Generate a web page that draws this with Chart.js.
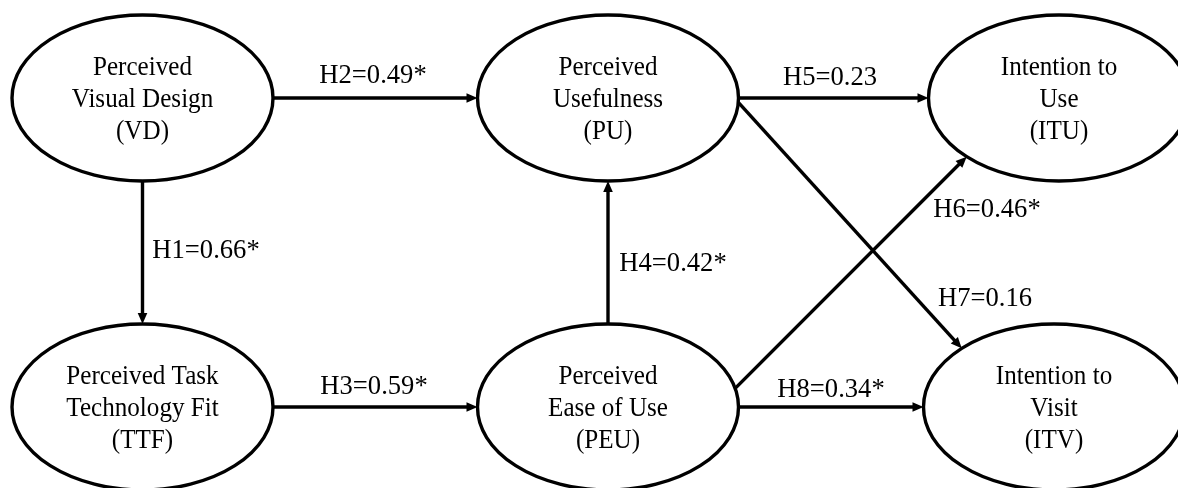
<!DOCTYPE html>
<html>
<head>
<meta charset="utf-8">
<script src="https://cdn.jsdelivr.net/npm/chart.js@4/dist/chart.umd.min.js"></script>
<style>
  html, body { margin: 0; padding: 0; background: #ffffff; }
  #wrap { width: 1178px; height: 488px; position: relative; }
</style>
</head>
<body>
<div id="wrap"><canvas id="c"></canvas></div>
<script>
// ---------- DATA ----------
const nodeIds = ['VD', 'PU', 'ITU', 'TTF', 'PEU', 'ITV'];
const nodeLabels = [
  ['Perceived', 'Visual Design', '(VD)'],
  ['Perceived', 'Usefulness', '(PU)'],
  ['Intention to', 'Use', '(ITU)'],
  ['Perceived Task', 'Technology Fit', '(TTF)'],
  ['Perceived', 'Ease of Use', '(PEU)'],
  ['Intention to', 'Visit', '(ITV)']
];
const pathIds   = ['H1', 'H2', 'H3', 'H4', 'H5', 'H6', 'H7', 'H8'];
const pathFrom  = ['VD', 'VD', 'TTF', 'PEU', 'PU', 'PEU', 'PU', 'PEU'];
const pathTo    = ['TTF', 'PU', 'PEU', 'PU', 'ITU', 'ITU', 'ITV', 'ITV'];
const pathCoef  = [0.66, 0.49, 0.59, 0.42, 0.23, 0.46, 0.16, 0.34];
const pathSig   = [true, true, true, true, false, true, false, true];

// ---------- LAYOUT (diagram geometry, in axis units) ----------
const layout = {
  centers: { VD: [142.5, 98], PU: [608, 98], ITU: [1059, 98],
             TTF: [142.5, 407], PEU: [608, 407], ITV: [1054, 407] },
  rx: 130.5, ry: 83,
  anchors: { H1: [90, 270], H2: [0, 180], H3: [0, 180], H4: [270, 90],
             H5: [0, 180], H6: [-13, 135], H7: [3, 225], H8: [0, 180] },
  labelPos: { H1: [206, 258], H2: [373, 83], H3: [374, 394], H4: [673, 271],
              H5: [830, 85], H6: [987, 217], H7: [985, 306], H8: [831, 397] }
};
const style = {
  font: '"Liberation Serif", "Times New Roman", serif',
  nodeSize: 27, nodeSqueeze: 0.93, nodeLineGap: 32,
  labelSize: 28, labelSqueeze: 0.95,
  lineWidth: 3.4, arrowLen: 11, arrowHalf: 4.8
};

function anchorPoint(node, deg) {
  const c = layout.centers[node];
  const a = deg * Math.PI / 180;
  return { x: c[0] + layout.rx * Math.cos(a), y: c[1] + layout.ry * Math.sin(a) };
}

// one line dataset per path, endpoints on the ellipses; line stops at arrow base
const edgeDatasets = pathIds.map((id, i) => {
  const an = layout.anchors[id];
  const p0 = anchorPoint(pathFrom[i], an[0]);
  const p1 = anchorPoint(pathTo[i], an[1]);
  const dx = p1.x - p0.x, dy = p1.y - p0.y, L = Math.hypot(dx, dy);
  const back = style.arrowLen - 2;
  return {
    label: id,
    data: [p0, { x: p1.x - dx / L * back, y: p1.y - dy / L * back }],
    tip: p1,
    showLine: true,
    borderColor: '#000',
    borderWidth: style.lineWidth,
    pointRadius: 0,
    fill: false
  };
});

// node dataset (invisible points; ellipses drawn by plugin from these)
const nodeDataset = {
  label: 'nodes',
  data: nodeIds.map(id => ({ x: layout.centers[id][0], y: layout.centers[id][1] })),
  pointRadius: 0,
  showLine: false
};

function squeezedText(ctx, text, x, y, size, squeeze) {
  ctx.save();
  ctx.font = size + 'px ' + style.font;
  ctx.translate(x, y);
  ctx.scale(squeeze, 1);
  ctx.textAlign = 'center';
  ctx.textBaseline = 'alphabetic';
  ctx.fillStyle = '#000';
  ctx.fillText(text, 0, 0);
  ctx.restore();
}

const diagramPlugin = {
  id: 'diagram',
  afterDatasetsDraw(chart) {
    const ctx = chart.ctx;
    const xs = chart.scales.x, ys = chart.scales.y;
    const kx = Math.abs(xs.getPixelForValue(1) - xs.getPixelForValue(0));
    const ky = Math.abs(ys.getPixelForValue(1) - ys.getPixelForValue(0));
    // ellipses + node text
    const nodeMeta = chart.getDatasetMeta(chart.data.datasets.length - 1);
    nodeMeta.data.forEach((pt, i) => {
      ctx.save();
      ctx.beginPath();
      ctx.ellipse(pt.x, pt.y, layout.rx * kx, layout.ry * ky, 0, 0, Math.PI * 2);
      ctx.lineWidth = style.lineWidth;
      ctx.strokeStyle = '#000';
      ctx.stroke();
      ctx.restore();
      const lines = nodeLabels[i];
      lines.forEach((t, j) => {
        squeezedText(ctx, t, pt.x, pt.y + 9 + (j - 1) * style.nodeLineGap,
                     style.nodeSize, style.nodeSqueeze);
      });
    });
    // arrowheads + path labels
    pathIds.forEach((id, i) => {
      const ds = chart.data.datasets[i];
      const meta = chart.getDatasetMeta(i);
      const a = meta.data[0], b = meta.data[1];
      const tx = xs.getPixelForValue(ds.tip.x), ty = ys.getPixelForValue(ds.tip.y);
      const dx = b.x - a.x, dy = b.y - a.y, L = Math.hypot(dx, dy);
      const ux = dx / L, uy = dy / L;
      const bx = tx - ux * style.arrowLen, by = ty - uy * style.arrowLen;
      ctx.save();
      ctx.beginPath();
      ctx.moveTo(tx, ty);
      ctx.lineTo(bx - uy * style.arrowHalf, by + ux * style.arrowHalf);
      ctx.lineTo(bx + uy * style.arrowHalf, by - ux * style.arrowHalf);
      ctx.closePath();
      ctx.fillStyle = '#000';
      ctx.fill();
      ctx.restore();
      const lp = layout.labelPos[id];
      const text = id + '=' + pathCoef[i].toFixed(2) + (pathSig[i] ? '*' : '');
      squeezedText(ctx, text, xs.getPixelForValue(lp[0]), ys.getPixelForValue(lp[1]),
                   style.labelSize, style.labelSqueeze);
    });
  }
};

new Chart(document.getElementById('c'), {
  type: 'scatter',
  data: { datasets: [...edgeDatasets, nodeDataset] },
  options: {
    responsive: true,
    maintainAspectRatio: false,
    animation: false,
    layout: { padding: 0 },
    plugins: { legend: { display: false }, tooltip: { enabled: false } },
    scales: {
      x: { type: 'linear', min: 0, max: 1178, display: false },
      y: { type: 'linear', min: 0, max: 488, reverse: true, display: false }
    },
    elements: { line: { tension: 0, borderCapStyle: 'butt' } }
  },
  plugins: [diagramPlugin]
});
</script>
</body>
</html>
